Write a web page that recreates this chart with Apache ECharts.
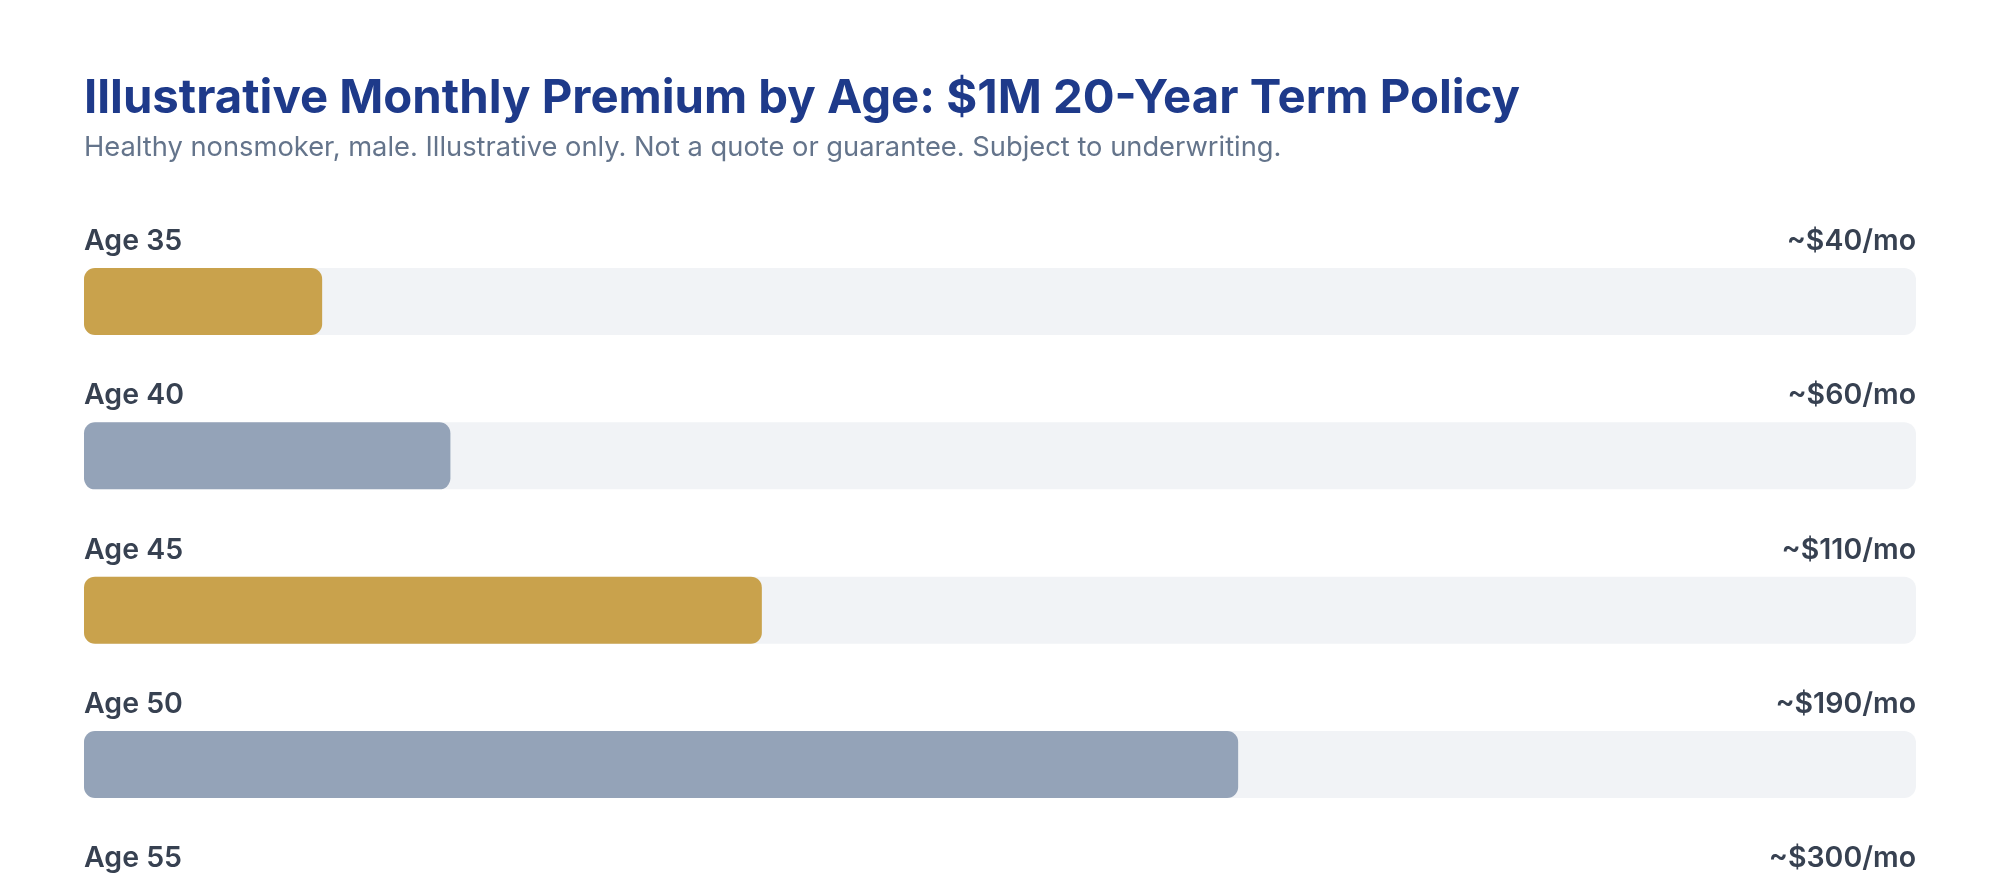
<!DOCTYPE html>
<html>
<head>
<meta charset="utf-8">
<script src="https://cdn.jsdelivr.net/npm/echarts@6/dist/echarts.min.js"></script>
<style>
  html, body { margin: 0; padding: 0; background: #ffffff; }
  #chart { width: 2000px; height: 880px; }
</style>
</head>
<body>
<div id="chart"></div>
<script>
// ---- data ----
const ages = ['Age 35', 'Age 40', 'Age 45', 'Age 50', 'Age 55'];
const premiums = [40, 60, 110, 190, 300];          // monthly premium labels ($)
const barPercent = [13, 20, 37, 63, 100];          // bar fill (% of track)
const axisMax = 100;
const titleText = 'Illustrative Monthly Premium by Age: $1M 20-Year Term Policy';
const subtitleText = 'Healthy nonsmoker, male. Illustrative only. Not a quote or guarantee. Subject to underwriting.';

// ---- styles ----
const barColors = ['#C9A24C', '#94A3B8'];
const FONT = 'Inter, "Noto Sans", sans-serif';
const BAR_W = 67;

const chart = echarts.init(document.getElementById('chart'), null, { renderer: 'canvas' });

chart.setOption({
  backgroundColor: '#ffffff',
  animation: false,
  title: [
    {
      text: titleText,
      left: 84,
      top: 75,
      padding: 0,
      textStyle: { fontFamily: FONT, fontSize: 47.3, fontWeight: 700, color: '#1E3A8A' }
    },
    {
      text: subtitleText,
      left: 84,
      top: 134,
      padding: 0,
      textStyle: { fontFamily: FONT, fontSize: 27.3, fontWeight: 400, color: '#64748B' }
    }
  ],
  grid: { left: 84, right: 84, top: 224.4, height: 771.5, outerBoundsMode: 'none' },
  xAxis: { type: 'value', min: 0, max: axisMax, show: false },
  yAxis: {
    type: 'category', data: ages, inverse: true,
    axisLine: { show: false }, axisTick: { show: false }, splitLine: { show: false },
    axisLabel: { show: false }
  },
  series: [
    {
      type: 'bar',
      data: barPercent,
      barWidth: BAR_W,
      showBackground: true,
      backgroundStyle: { color: '#F1F3F6', borderRadius: 12 },
      itemStyle: {
        borderRadius: 11,
        color: function (p) { return barColors[p.dataIndex % 2]; }
      }
    },
    {
      type: 'custom',
      data: premiums.map(function (v, i) { return [v, i]; }),
      encode: { y: 1 },
      clip: false,
      silent: true,
      renderItem: function (params, api) {
        const idx = api.value(1);
        const v = api.value(0);
        const start = api.coord([0, idx]);
        const end = api.coord([axisMax, idx]);
        const yText = start[1] - BAR_W / 2 - 12;
        const common = {
          fontFamily: FONT, fontSize: 28.5, fontWeight: 600, fill: '#374151',
          verticalAlign: 'bottom'
        };
        return {
          type: 'group',
          children: [
            { type: 'text', x: start[0], y: yText,
              style: Object.assign({ text: ages[idx], align: 'left' }, common) },
            { type: 'text', x: end[0], y: yText,
              style: Object.assign({ text: '~$' + v + '/mo', align: 'right' }, common) }
          ]
        };
      }
    }
  ]
});
</script>
</body>
</html>
